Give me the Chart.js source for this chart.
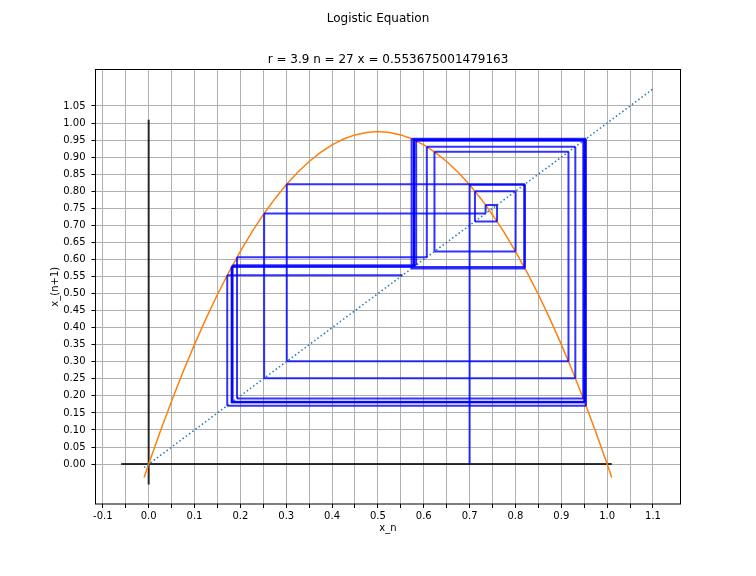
<!DOCTYPE html>
<html>
<head>
<meta charset="utf-8">
<title>Logistic Equation</title>
<script src="https://cdn.jsdelivr.net/npm/chart.js@4.4.1/dist/chart.umd.min.js"></script>
<style>
  html, body { margin: 0; padding: 0; background: #fff; }
  #wrap { width: 756px; height: 576px; }
</style>
</head>
<body>
<div id="wrap"><canvas id="chart" width="756" height="576"></canvas></div>
<script>
// ---------------------------------------------
// Data
// ---------------------------------------------

const r = 3.9;
const n = 27;
const finalX = "0.553675001479163";

// orbit x0 .. x28, starting at 0.7
const orbit = [
  0.7, 0.819, 0.578132, 0.951192, 0.181061, 0.578284, 0.951100, 0.181385,
  0.579090, 0.950605, 0.183125, 0.583400, 0.947874, 0.192694, 0.606696,
  0.930603, 0.251867, 0.734876, 0.759851, 0.711663, 0.800275, 0.623357,
  0.915655, 0.301203, 0.820871, 0.573464, 0.953952, 0.171318, 0.553675
];

// logistic curve samples
const curveX = [-0.01, 0, 0.025, 0.05, 0.075, 0.10, 0.125, 0.15, 0.175, 0.20, 0.225, 0.25,
                0.275, 0.30, 0.325, 0.35, 0.375, 0.40, 0.425, 0.45, 0.475, 0.50,
                0.525, 0.55, 0.575, 0.60, 0.625, 0.65, 0.675, 0.70, 0.725, 0.75,
                0.775, 0.80, 0.825, 0.85, 0.875, 0.90, 0.925, 0.95, 0.975, 1.00, 1.01];
const curveY = [-0.03939, 0, 0.0950625, 0.18525, 0.2705625, 0.351, 0.4265625, 0.49725, 0.5630625, 0.624, 0.6800625, 0.73125,
                0.7775625, 0.819, 0.8555625, 0.88725, 0.9140625, 0.936, 0.9530625, 0.96525, 0.9725625, 0.975,
                0.9725625, 0.96525, 0.9530625, 0.936, 0.9140625, 0.88725, 0.8555625, 0.819, 0.7775625, 0.73125,
                0.6800625, 0.624, 0.5630625, 0.49725, 0.4265625, 0.351, 0.2705625, 0.18525, 0.0950625, 0, -0.03939];

// y = x reference line
const diagX = [-0.01, 1.1];

// black axis lines through the origin
const axisLineX = [-0.06, 1.01];
const axisLineY = [-0.06, 1.01];

// ticks
const xTicks = [-0.1, -0.05, 0, 0.05, 0.1, 0.15, 0.2, 0.25, 0.3, 0.35, 0.4, 0.45, 0.5,
                0.55, 0.6, 0.65, 0.7, 0.75, 0.8, 0.85, 0.9, 0.95, 1.0, 1.05, 1.1];
const xTickLabels = ["-0.1", "", "0.0", "", "0.1", "", "0.2", "", "0.3", "", "0.4", "", "0.5",
                     "", "0.6", "", "0.7", "", "0.8", "", "0.9", "", "1.0", "", "1.1"];
const yTicks = [0, 0.05, 0.1, 0.15, 0.2, 0.25, 0.3, 0.35, 0.4, 0.45, 0.5, 0.55,
                0.6, 0.65, 0.7, 0.75, 0.8, 0.85, 0.9, 0.95, 1.0, 1.05];

// ---------------------------------------------
// Helpers
// ---------------------------------------------

const FONT = "DejaVu Sans";
Chart.defaults.font.family = FONT;
Chart.defaults.font.size = 10;
Chart.defaults.color = "#000";

function cobwebPoints() {
  const pts = [];
  const seg = (x1, y1, x2, y2) => {
    pts.push({ x: x1, y: y1 }, { x: x2, y: y2 }, { x: x2, y: null });
  };
  seg(orbit[0], 0, orbit[0], orbit[1]);
  for (let i = 1; i < orbit.length; i++) {
    seg(orbit[i - 1], orbit[i], orbit[i], orbit[i]);
    if (i + 1 < orbit.length) seg(orbit[i], orbit[i], orbit[i], orbit[i + 1]);
  }
  return pts;
}

const framePlugin = {
  id: "frame",
  afterDraw(chart) {
    const { ctx, chartArea: a } = chart;
    ctx.save();
    ctx.strokeStyle = "#000";
    ctx.lineWidth = 1;
    ctx.strokeRect(a.left, a.top, a.right - a.left, a.bottom - a.top);
    ctx.restore();
  }
};

const lineDefaults = { showLine: true, pointRadius: 0, fill: false };

// ---------------------------------------------
// Build chart
// ---------------------------------------------

new Chart(document.getElementById("chart"), {
  type: "scatter",
  data: {
    datasets: [
      {
        ...lineDefaults,
        label: "cobweb",
        data: cobwebPoints(),
        borderColor: "rgba(0,0,255,0.8)",
        borderWidth: 2,
        spanGaps: false,
        segment: { borderColor: () => undefined }
      },
      {
        ...lineDefaults,
        label: "y = x",
        data: diagX.map(v => ({ x: v, y: v })),
        borderColor: "#1f77b4",
        borderWidth: 1.5,
        borderDash: [1.5, 2.5]
      },
      {
        ...lineDefaults,
        label: "f(x)",
        data: curveX.map((x, i) => ({ x, y: curveY[i] })),
        borderColor: "#ff7f0e",
        borderWidth: 1.5
      },
      {
        ...lineDefaults,
        label: "axes",
        data: [
          { x: axisLineX[0], y: 0 }, { x: axisLineX[1], y: 0 }, { x: axisLineX[1], y: null },
          { x: 0, y: axisLineY[0] }, { x: 0, y: axisLineY[1] }
        ],
        borderColor: "rgba(0,0,0,0.8)",
        borderWidth: 2,
        spanGaps: false
      }
    ]
  },
  options: {
    responsive: false,
    animation: false,
    devicePixelRatio: 1,
    layout: { padding: 0 },
    plugins: {
      legend: { display: false },
      tooltip: { enabled: false },
      title: {
        display: true,
        text: "Logistic Equation",
        font: { family: FONT, size: 12, weight: "normal" },
        color: "#000",
        padding: { top: 11.5, bottom: 0 }
      },
      subtitle: {
        display: true,
        text: `r = ${r} n = ${n} x = ${finalX}`,
        fullSize: false,
        font: { family: FONT, size: 12, weight: "normal" },
        color: "#000",
        padding: { top: 26.6, bottom: 2.6 }
      }
    },
    scales: {
      x: {
        type: "linear",
        min: -0.116,
        max: 1.160,
        afterBuildTicks: s => { s.ticks = xTicks.map(v => ({ value: v })); },
        afterFit: s => { s.height = 72; },
        ticks: {
          autoSkip: false,
          maxRotation: 0,
          padding: 2,
          callback: (v, i) => xTickLabels[i]
        },
        grid: { color: "#b0b0b0", lineWidth: 1, tickLength: 4, tickColor: "#000" },
        border: { display: false },
        title: { display: true, text: "x_n", font: { size: 10 }, padding: { top: 0, bottom: 42 } }
      },
      y: {
        type: "linear",
        min: -0.117,
        max: 1.157,
        afterBuildTicks: s => { s.ticks = yTicks.map(v => ({ value: v })); },
        afterFit: s => { s.width = 95.5; },
        ticks: {
          autoSkip: false,
          padding: 6,
          callback: v => v.toFixed(2)
        },
        grid: { color: "#b0b0b0", lineWidth: 1, tickLength: 4, tickColor: "#000" },
        border: { display: false },
        title: { display: true, text: "x_(n+1)", font: { size: 10 }, padding: { top: 49, bottom: 0 } }
      },
      y2: {
        type: "linear",
        position: "right",
        display: true,
        afterFit: s => { s.width = 75.5; },
        ticks: { display: false },
        grid: { display: false, drawTicks: false },
        border: { display: false }
      }
    }
  },
  plugins: [framePlugin]
});
</script>
</body>
</html>
